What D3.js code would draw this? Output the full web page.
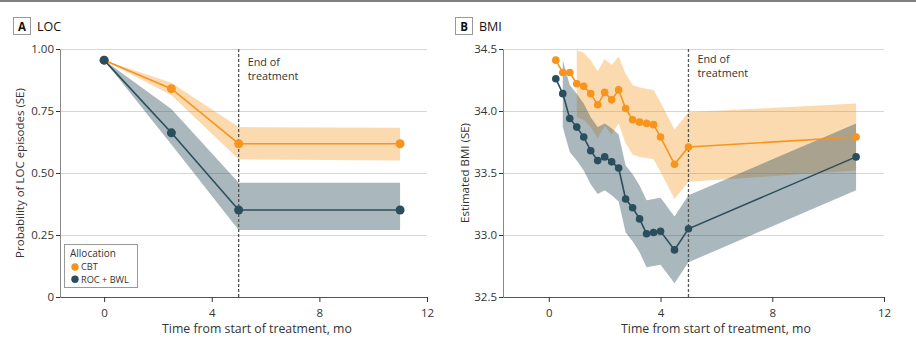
<!DOCTYPE html>
<html>
<head>
<meta charset="utf-8">
<script src="https://cdn.jsdelivr.net/npm/d3@7"></script>
<style>
  body { margin: 0; background: #fff; }
  svg text { font-family: "Open Sans", "Noto Sans", sans-serif; fill: #333; }
</style>
</head>
<body>
<svg id="chart" width="916" height="350"></svg>
<script>
// Panel A: probability of LOC episodes
const locMonths = [0, 2.5, 5, 11];
const locCBT = [0.955, 0.84, 0.618, 0.618];
const locCBTHi = [0.955, 0.864, 0.685, 0.682];
const locCBTLo = [0.955, 0.814, 0.555, 0.55];
const locROC = [0.955, 0.662, 0.351, 0.351];
const locROCHi = [0.955, 0.758, 0.461, 0.461];
const locROCLo = [0.955, 0.615, 0.27, 0.27];
const locTicks = [0, 0.25, 0.5, 0.75, 1];

// Panel B: estimated BMI
const bmiMonths = [0.25, 0.5, 0.75, 1.0, 1.25, 1.5, 1.75, 2.0, 2.25, 2.5, 2.75, 3.0, 3.25, 3.5, 3.75, 4.0, 4.5, 5.0, 11.0];
const bmiCBT   = [34.41, 34.31, 34.31, 34.22, 34.20, 34.14, 34.05, 34.15, 34.09, 34.17, 34.02, 33.93, 33.91, 33.90, 33.89, 33.79, 33.57, 33.71, 33.79];
const bmiCBTHi = [null, null, null, 34.49, 34.47, 34.41, 34.32, 34.42, 34.37, 34.44, 34.30, 34.21, 34.19, 34.18, 34.17, 34.07, 33.85, 33.99, 34.06];
const bmiCBTLo = [null, null, null, 33.95, 33.93, 33.87, 33.78, 33.88, 33.81, 33.90, 33.74, 33.65, 33.63, 33.62, 33.61, 33.51, 33.29, 33.43, 33.52];
const bmiROC   = [34.26, 34.14, 33.94, 33.87, 33.79, 33.68, 33.60, 33.63, 33.59, 33.54, 33.29, 33.22, 33.13, 33.01, 33.02, 33.03, 32.88, 33.05, 33.63];
const bmiROCHi = [null, 34.41, 34.21, 34.14, 34.06, 33.95, 33.87, 33.90, 33.86, 33.81, 33.56, 33.49, 33.40, 33.28, 33.29, 33.30, 33.15, 33.32, 33.90];
const bmiROCLo = [null, 33.87, 33.67, 33.60, 33.52, 33.41, 33.33, 33.36, 33.32, 33.27, 33.02, 32.95, 32.86, 32.74, 32.75, 32.76, 32.61, 32.78, 33.36];
const bmiTicks = [32.5, 33.0, 33.5, 34.0, 34.5];

const monthTicks = [0, 4, 8, 12];
const endOfTreatment = 5;
const groups = ["CBT", "ROC + BWL"];

const orange = "#f7941d";
const teal = "#2b4e5c";

const svg = d3.select("#chart");

// thin rule across the top
svg.append("line").attr("x1", 0).attr("x2", 916).attr("y1", 1).attr("y2", 1)
  .attr("stroke", "#555").attr("stroke-width", 1.5);

function drawPanel(opt) {
  const x = d3.scaleLinear().domain([-1.64, 12]).range([opt.left, opt.right]);
  const y = d3.scaleLinear().domain(opt.yDomain).range([297, 49]);
  const g = svg.append("g");

  // panel label
  g.append("rect").attr("x", opt.boxX + 0.5).attr("y", 17.5).attr("width", 17).attr("height", 17)
    .attr("fill", "#fff").attr("stroke", "#999");
  g.append("text").attr("x", opt.boxX + 9).attr("y", 30.5).attr("text-anchor", "middle")
    .attr("font-weight", "bold").attr("font-size", 11.5).style("fill", "#111").text(opt.letter);
  g.append("text").attr("x", opt.boxX + 24).attr("y", 30.5).attr("font-size", 12.5)
    .style("fill", "#111").text(opt.title);

  // grid
  g.append("g").selectAll("line").data(opt.yTicks.filter(d => d !== opt.yDomain[0])).join("line")
    .attr("x1", opt.left).attr("x2", opt.right)
    .attr("y1", d => y(d) + 0.5).attr("y2", d => y(d) + 0.5)
    .attr("stroke", "#d6d6d6");

  // y axis
  const yAxis = g.append("g").attr("transform", `translate(${opt.left},0)`)
    .call(d3.axisLeft(y).tickValues(opt.yTicks).tickSize(4).tickSizeOuter(0).tickFormat(opt.yFormat));
  yAxis.select(".domain").attr("stroke", "#888");
  yAxis.selectAll(".tick line").attr("stroke", "#333");
  yAxis.selectAll("text").attr("font-size", 11.5).attr("x", -6).style("fill", "#333");

  // x axis
  const xAxis = g.append("g").attr("transform", "translate(0,297)")
    .call(d3.axisBottom(x).tickValues(monthTicks).tickSize(5).tickSizeOuter(0));
  xAxis.select(".domain").attr("stroke", "#555");
  xAxis.selectAll(".tick line").attr("stroke", "#333");
  xAxis.selectAll("text").attr("font-size", 11.5).attr("dy", "1.0em").style("fill", "#333");

  // axis titles
  g.append("text").attr("x", opt.xTitleX).attr("y", 333).attr("text-anchor", "middle")
    .attr("font-size", 12.3).text("Time from start of treatment, mo");
  g.append("text").attr("transform", `translate(${opt.yTitleX},${y(opt.yTitleMid)}) rotate(-90)`)
    .attr("text-anchor", "middle").attr("font-size", 11.5).text(opt.yTitle);

  // bands
  const series = [
    { v: opt.cbt, hi: opt.cbtHi, lo: opt.cbtLo, color: orange, op: 0.35 },
    { v: opt.roc, hi: opt.rocHi, lo: opt.rocLo, color: teal, op: 0.4 }
  ];
  const area = d3.area()
    .defined(d => d.hi != null)
    .x(d => x(d.m)).y0(d => y(d.lo)).y1(d => y(d.hi));
  series.forEach(s => {
    const pts = opt.months.map((m, i) => ({ m, v: s.v[i], hi: s.hi[i], lo: s.lo[i] }));
    s.pts = pts;
    g.append("path").datum(pts).attr("d", area).attr("fill", s.color).attr("fill-opacity", s.op);
  });

  // end of treatment marker
  g.append("line").attr("x1", x(endOfTreatment)).attr("x2", x(endOfTreatment))
    .attr("y1", 49).attr("y2", 297).attr("stroke", "#555").attr("stroke-width", 1.3)
    .attr("stroke-dasharray", "3,2");
  const eot = g.append("text").attr("x", x(endOfTreatment) + 9).attr("y", opt.eotY).attr("font-size", 10.8);
  eot.append("tspan").text("End of");
  eot.append("tspan").attr("x", x(endOfTreatment) + 9).attr("dy", 13.8).text("treatment");

  // lines and points
  const line = d3.line().x(d => x(d.m)).y(d => y(d.v));
  series.forEach(s => {
    g.append("path").datum(s.pts).attr("d", line).attr("fill", "none")
      .attr("stroke", s.color).attr("stroke-width", 1.6);
    g.append("g").selectAll("circle").data(s.pts).join("circle")
      .attr("cx", d => x(d.m)).attr("cy", d => y(d.v)).attr("r", opt.r)
      .attr("fill", s.color);
  });
  return g;
}

drawPanel({
  letter: "A", title: "LOC", boxX: 13, left: 60, right: 427,
  yDomain: [0, 1], yTicks: locTicks,
  yFormat: d => d === 0 ? "0" : d3.format(".2f")(d),
  yTitle: "Probability of LOC episodes (SE)", yTitleX: 24, yTitleMid: 0.5,
  xTitleX: 257, eotY: 66,
  months: locMonths, cbt: locCBT, cbtHi: locCBTHi, cbtLo: locCBTLo,
  roc: locROC, rocHi: locROCHi, rocLo: locROCLo, r: 4.5
});

drawPanel({
  letter: "B", title: "BMI", boxX: 455, left: 503, right: 884,
  yDomain: [32.5, 34.5], yTicks: bmiTicks,
  yFormat: d3.format(".1f"),
  yTitle: "Estimated BMI (SE)", yTitleX: 469, yTitleMid: 33.5,
  xTitleX: 716, eotY: 63,
  months: bmiMonths, cbt: bmiCBT, cbtHi: bmiCBTHi, cbtLo: bmiCBTLo,
  roc: bmiROC, rocHi: bmiROCHi, rocLo: bmiROCLo, r: 3.8
});

// legend (panel A)
const leg = svg.append("g");
leg.append("rect").attr("x", 64.5).attr("y", 244.5).attr("width", 73).attr("height", 43)
  .attr("fill", "#fff").attr("stroke", "#999");
leg.append("text").attr("x", 70).attr("y", 256.5).attr("font-size", 10).text("Allocation");
leg.selectAll("circle.key").data(groups).join("circle").attr("class", "key")
  .attr("cx", 75).attr("cy", (d, i) => 267 + i * 12.3).attr("r", 3.7)
  .attr("fill", (d, i) => i === 0 ? orange : teal);
leg.selectAll("text.key").data(groups).join("text").attr("class", "key")
  .attr("x", 81).attr("y", (d, i) => 270.3 + i * 12.3).attr("font-size", 9.2)
  .text(d => d);
</script>
</body>
</html>
